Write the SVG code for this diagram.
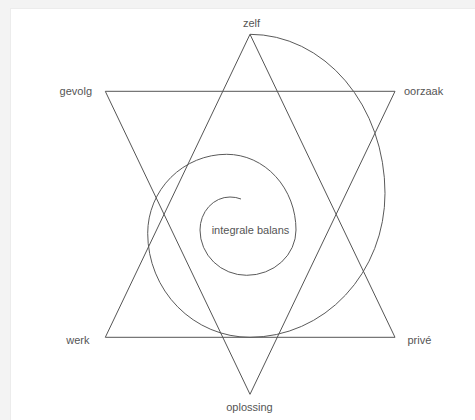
<svg xmlns="http://www.w3.org/2000/svg" width="475" height="420" viewBox="0 0 475 420">
  <style>
    .ln { fill: none; stroke: #555; stroke-width: 1; stroke-linejoin: miter; }
    .sp { fill: none; stroke: #5a5a5a; stroke-width: 1; }
    .lb { font-family: "Liberation Sans", Arial, sans-serif; font-size: 11px; fill: #555; }
  </style>
  <rect x="0" y="0" width="475" height="420" fill="#f3f3f3"/>
  <rect x="10" y="8" width="465" height="412" fill="#ececec"/>
  <rect x="11" y="9" width="464" height="411" fill="#ffffff"/>

  <g id="connectors">
    <polygon class="ln" points="250,34.3 395,337.3 105.3,337.3"/>
    <polygon class="ln" points="105.3,91.3 395,91.3 250,394.3"/>
    <path id="spiral" class="sp" d="M241,199 Q236,197 230,197 A30,33 0 0 0 200,230 A46.7,45.3 0 0 0 246.7,275.3 A49.3,45.3 0 0 0 296,230 A69.3,75.7 0 0 0 226.7,154.3 A79,79 0 0 0 147.7,233.3 A102.3,104 0 0 0 250,337.3 A135,144 0 0 0 385,193.3 A135,159 0 0 0 250,34.3"/>
  </g>

  <g id="zelf"><text class="lb" x="251.5" y="27" text-anchor="middle">zelf</text></g>
  <g id="gevolg"><text class="lb" x="92" y="95" text-anchor="end">gevolg</text></g>
  <g id="oorzaak"><text class="lb" x="404" y="95">oorzaak</text></g>
  <g id="werk"><text class="lb" x="89.5" y="344" text-anchor="end">werk</text></g>
  <g id="prive"><text class="lb" x="407.5" y="344">privé</text></g>
  <g id="oplossing"><text class="lb" x="249.5" y="411" text-anchor="middle">oplossing</text></g>
  <g id="integrale-balans"><text class="lb" x="250.5" y="234" text-anchor="middle">integrale balans</text></g>
</svg>
